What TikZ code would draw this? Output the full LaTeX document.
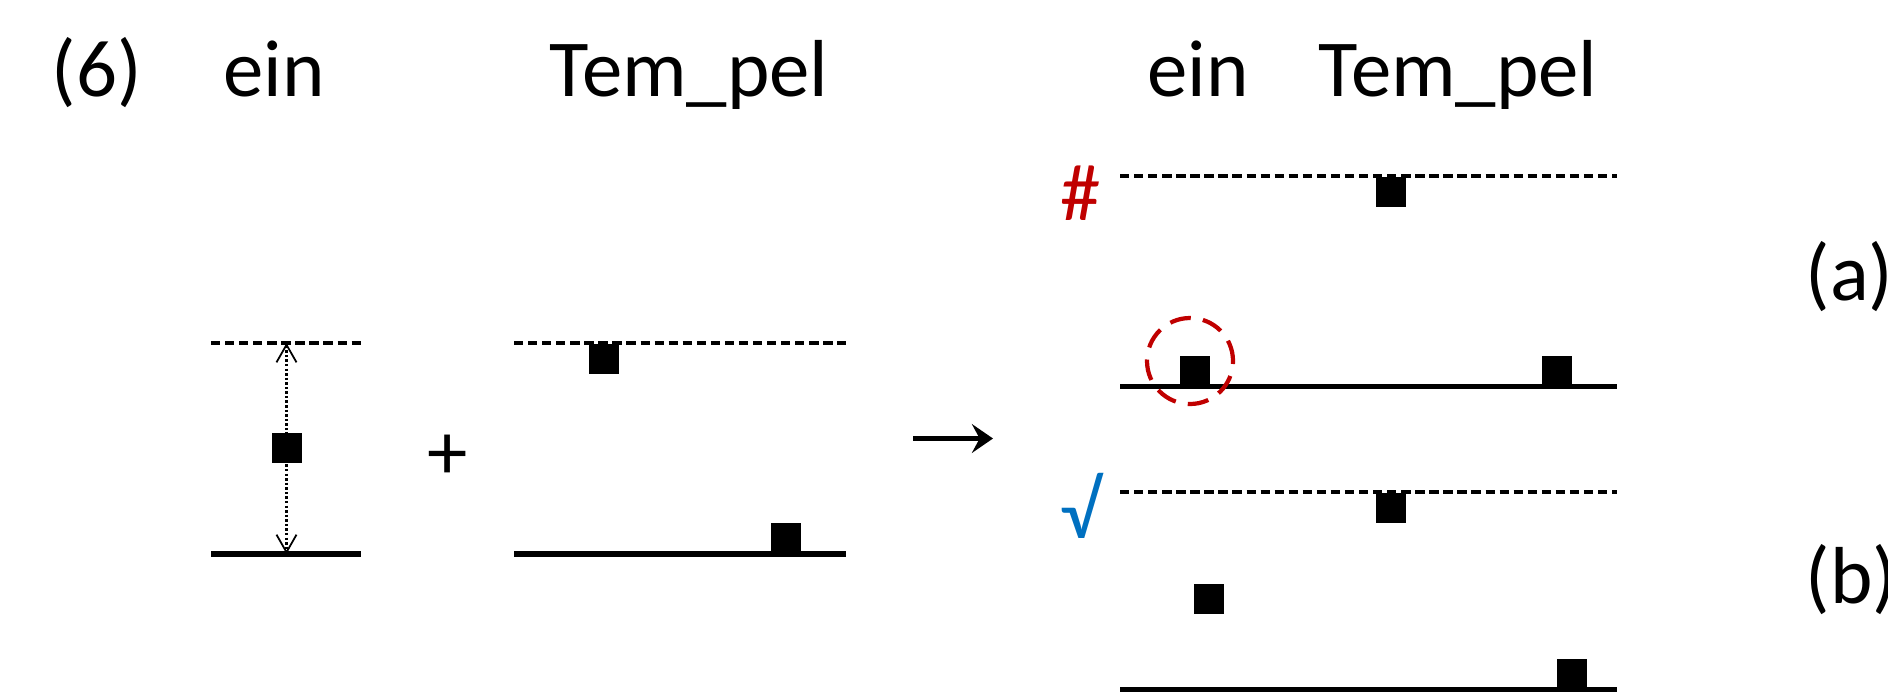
\documentclass[tikz,border=0pt]{standalone}
\usepackage{fontspec}
\setmainfont{Carlito}
\usetikzlibrary{arrows.meta}
\definecolor{hashred}{HTML}{C00000}
\definecolor{okblue}{HTML}{0070C0}

\begin{document}
\begin{tikzpicture}[
  txt/.style={font=\fontsize{23}{28}\selectfont, inner sep=0pt, anchor=base},
  tone/.style={fill=black, inner sep=0pt, minimum size=0.3cm},
  hightier/.style={line width=1.1pt, dash pattern=on 2.65pt off 1.35pt},
  lowtier/.style={line width=1.45pt},
  barb/.tip={Straight Barb[length=5pt, width=5.7pt, line width=0.5pt]},
  spread/.style={line width=0.7pt, dash pattern=on 0.7pt off 0.6pt,
                 {barb}-{barb}},
  ring/.style={draw=hashred, circle, line width=1.2pt,
               dash pattern=on 6pt off 3.5pt, minimum size=0.86cm},
  yields/.style={line width=1.4pt,
                 -{Stealth[length=6pt, width=8.2pt, inset=2.2pt]}},
]
  \useasboundingbox (0,0) rectangle (18.88,6.92);

  % Headings
  \node[txt, anchor=base west] (num) at (0.51,5.96) {(6)};
  \node[txt] (einL) at (2.74,5.96) {ein};
  \node[txt] (temL) at (6.89,5.96) {Tem\_pel};
  \node[txt] (einR) at (11.98,5.96) {ein};
  \node[txt] (temR) at (14.58,5.96) {Tem\_pel};

  % ein on its own
  \draw[hightier] (2.11,3.49) -- (3.61,3.49);
  \draw[lowtier] (2.11,1.38) -- (3.61,1.38);
  \coordinate (einup) at (2.865,3.49);
  \coordinate (eindown) at (2.865,1.38);
  \draw[spread] (einup) -- (eindown);
  \node[tone] (t0) at (2.87,2.44) {};

  \node[txt] (plus) at (4.48,2.13) {+};

  % Tem_pel on its own
  \draw[hightier] (5.14,3.49) -- (8.46,3.49);
  \draw[lowtier] (5.14,1.38) -- (8.46,1.38);
  \node[tone, anchor=north] (t1) at (6.04,3.49) {};
  \node[tone, anchor=south] (t2) at (7.855,1.38) {};

  % Arrow
  \coordinate (from) at (9.13,2.535);
  \coordinate (to) at (9.93,2.535);
  \draw[yields] (from) -- (to);

  % Output (a)
  \node[txt, text=hashred] (bad) at (10.81,4.72) {\#};
  \draw[hightier] (11.20,5.16) -- (16.17,5.16);
  \draw[lowtier] (11.20,3.055) -- (16.17,3.055);
  \node[tone, anchor=north] (a1) at (13.905,5.16) {};
  \node[tone, anchor=south] (a0) at (11.945,3.055) {};
  \node[tone, anchor=south] (a2) at (15.565,3.055) {};
  \node[ring] (clash) at (11.90,3.31) {};
  \node[txt, anchor=base west] (la) at (18.05,3.92) {(a)};

  % Output (b)
  \node[txt, text=okblue] (good) at (10.81,1.54) {√};
  \draw[hightier] (11.20,2.00) -- (16.17,2.00);
  \draw[lowtier] (11.20,0.025) -- (16.17,0.025);
  \node[tone, anchor=north] (b1) at (13.905,2.00) {};
  \node[tone] (b0) at (12.085,0.935) {};
  \node[tone, anchor=south] (b2) at (15.715,0.025) {};
  \node[txt, anchor=base west] (lb) at (18.05,0.89) {(b)};
\end{tikzpicture}
\end{document}
